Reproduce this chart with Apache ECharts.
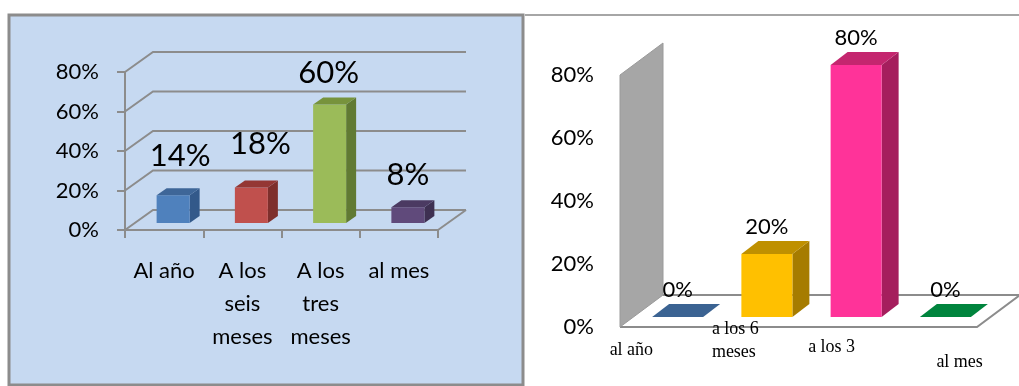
<!DOCTYPE html>
<html>
<head>
<meta charset="utf-8">
<script src="https://cdn.jsdelivr.net/npm/echarts@6/dist/echarts.min.js"></script>
<style>
  html, body { margin: 0; padding: 0; background: #ffffff; }
  #chart { width: 1019px; height: 386px; }
</style>
</head>
<body>
<div id="chart"></div>
<script>
// Data: left panel
const leftCategories = ['Al año', 'A los\nseis\nmeses', 'A los\ntres\nmeses', 'al mes'];
const leftValues = [0.14, 0.18, 0.60, 0.08];
// Data: right panel
const rightCategories = ['al año', 'a los 6\nmeses', 'a los 3', 'al mes'];
const rightValues = [0, 0.20, 0.80, 0];
// Value axis ticks (shared)
const percentTicks = [0, 0.2, 0.4, 0.6, 0.8];

const pct = v => Math.round(v * 100) + '%';

// Box shading per bar: front, top, side
const leftShades = [
  { front: '#4F81BD', top: '#3E6698', side: '#33598A' },
  { front: '#C0504D', top: '#943734', side: '#7E2F2C' },
  { front: '#9BBB59', top: '#77933C', side: '#617A33' },
  { front: '#604A7B', top: '#4B3A62', side: '#3E3052' }
];
const rightShades = [
  { front: '#3B6392', top: '#3B6392', side: '#2E4F75' },
  { front: '#FFC000', top: '#BF9000', side: '#A67C00' },
  { front: '#FF3399', top: '#C4266F', side: '#A51E5D' },
  { front: '#00843D', top: '#00843D', side: '#006A31' }
];

// Per-label placement tweaks for the left value labels [dx, lift]
const leftLabelShift = [[7, 32], [9, 36], [-1, 25], [0, 25]];
// Placement of right category labels relative to category centre [dx, dy]
const rightTickShift = [[-55, 23], [-42, 14], [-35, 20], [4, 35]];

const frameGray = '#8C8C8C';
const labelFont = 'Lato, "Open Sans", sans-serif';

// 3D layout settings
const L = { floor: [28, -20], front: [9, -7], depth: [10, -7], width: 33 };
const R = { floor: [43, -32], front: [13, -10], depth: [17, -13], width: 51 };

function boxShapes(api, cfg, i, v, shade) {
  const base = api.coord([i, 0]);
  const top = api.coord([i, v]);
  const xl = base[0] + cfg.front[0] - cfg.width / 2;
  const xr = xl + cfg.width;
  const yb = base[1] + cfg.front[1];
  const yt = top[1] + cfg.front[1];
  const dx = cfg.depth[0], dy = cfg.depth[1];
  const kids = [];
  if (yb - yt > 0.5) {
    kids.push({ type: 'polygon', shape: { points: [[xr, yt], [xr + dx, yt + dy], [xr + dx, yb + dy], [xr, yb]] }, style: { fill: shade.side } });
    kids.push({ type: 'rect', shape: { x: xl, y: yt, width: cfg.width, height: yb - yt }, style: { fill: shade.front } });
  }
  kids.push({ type: 'polygon', shape: { points: [[xl, yt], [xr, yt], [xr + dx, yt + dy], [xl + dx, yt + dy]] }, style: { fill: shade.top } });
  return { kids, cx: (xl + xr) / 2, backTop: yt + dy };
}

const option = {
  animation: false,
  backgroundColor: '#ffffff',
  graphic: [
    { type: 'rect', z: -10, shape: { x: 9, y: 15, width: 514, height: 370 },
      style: { fill: '#C6D9F1', stroke: frameGray, lineWidth: 3 } },
    { type: 'line', z: -10, shape: { x1: 525, y1: 15, x2: 1019, y2: 15 },
      style: { stroke: '#A6A6A6', lineWidth: 2 } }
  ],
  grid: [
    { left: 125, top: 72, width: 313, height: 158 },
    { left: 620, top: 75, width: 357, height: 252 }
  ],
  xAxis: [
    {
      type: 'category', gridIndex: 0, data: leftCategories, boundaryGap: true,
      axisLine: { show: true, lineStyle: { color: frameGray, width: 2 } },
      axisTick: { show: true, length: 8, lineStyle: { color: frameGray, width: 2 } },
      axisLabel: { interval: 0, fontSize: 22, lineHeight: 33, margin: 24, color: '#000', fontFamily: labelFont }
    },
    {
      type: 'category', gridIndex: 1, data: rightCategories, boundaryGap: true,
      axisLine: { show: false }, axisTick: { show: false }, axisLabel: { show: false }
    }
  ],
  yAxis: [
    {
      type: 'value', gridIndex: 0, min: 0, max: 0.8, interval: 0.2,
      axisLine: { show: true, lineStyle: { color: frameGray, width: 2 } },
      axisTick: { show: true, length: 8, lineStyle: { color: frameGray, width: 2 } },
      splitLine: { show: false },
      axisLabel: { formatter: pct, fontSize: 22, margin: 26, color: '#000', fontFamily: labelFont }
    },
    {
      type: 'value', gridIndex: 1, min: 0, max: 0.8, interval: 0.2,
      axisLine: { show: false }, axisTick: { show: false }, splitLine: { show: false },
      axisLabel: { formatter: pct, fontSize: 22, margin: 26, color: '#000', fontFamily: labelFont }
    }
  ],
  series: [
    // Left panel: receding grid lines and floor edge
    {
      type: 'custom', xAxisIndex: 0, yAxisIndex: 0, z: 1, silent: true,
      data: [[0, 0]],
      renderItem: function (params, api) {
        const cs = params.coordSys;
        const x0 = cs.x, x1 = cs.x + cs.width;
        const [fx, fy] = L.floor;
        const kids = percentTicks.map(function (t) {
          const y = api.coord([0, t])[1];
          return { type: 'polyline', shape: { points: [[x0, y], [x0 + fx, y + fy], [x1 + fx, y + fy]] },
                   style: { stroke: frameGray, lineWidth: 2, fill: null } };
        });
        const yb = api.coord([0, 0])[1];
        kids.push({ type: 'line', shape: { x1: x1, y1: yb, x2: x1 + fx, y2: yb + fy },
                    style: { stroke: frameGray, lineWidth: 2 } });
        return { type: 'group', children: kids };
      }
    },
    // Left panel: boxes and value labels
    {
      type: 'custom', xAxisIndex: 0, yAxisIndex: 0, z: 3,
      data: leftValues.map((v, i) => [i, v]),
      renderItem: function (params, api) {
        const i = api.value(0), v = api.value(1);
        const b = boxShapes(api, L, i, v, leftShades[i]);
        const s = leftLabelShift[i];
        b.kids.push({ type: 'text', style: {
          text: pct(v), x: b.cx + s[0], y: b.backTop - s[1],
          align: 'center', verticalAlign: 'middle',
          fontSize: 31, fontFamily: labelFont, fill: '#000' } });
        return { type: 'group', children: b.kids };
      }
    },
    // Right panel: side wall and floor
    {
      type: 'custom', xAxisIndex: 1, yAxisIndex: 1, z: 1, silent: true,
      data: [[0, 0]],
      renderItem: function (params, api) {
        const cs = params.coordSys;
        const x0 = cs.x, x1 = cs.x + cs.width;
        const [fx, fy] = R.floor;
        const yb = api.coord([0, 0])[1];
        const yt = api.coord([0, 0.8])[1];
        return { type: 'group', children: [
          { type: 'polyline', shape: { points: [[x0, yb], [x1, yb], [x1 + fx, yb + fy], [x0 + fx, yb + fy]] },
            style: { stroke: frameGray, lineWidth: 2, fill: '#ffffff' } },
          { type: 'polygon', shape: { points: [[x0, yb], [x0, yt], [x0 + fx, yt + fy], [x0 + fx, yb + fy]] },
            style: { fill: '#A6A6A6', stroke: '#9A9A9A', lineWidth: 1 } }
        ] };
      }
    },
    // Right panel: boxes and value labels
    {
      type: 'custom', xAxisIndex: 1, yAxisIndex: 1, z: 3,
      data: rightValues.map((v, i) => [i, v]),
      renderItem: function (params, api) {
        const i = api.value(0), v = api.value(1);
        const b = boxShapes(api, R, i, v, rightShades[i]);
        b.kids.push({ type: 'text', style: {
          text: pct(v), x: b.cx, y: b.backTop - 14,
          align: 'center', verticalAlign: 'middle',
          fontSize: 22, fontFamily: labelFont, fill: '#000' } });
        return { type: 'group', children: b.kids };
      }
    },
    // Right panel: category captions
    {
      type: 'custom', xAxisIndex: 1, yAxisIndex: 1, z: 3, silent: true,
      data: rightCategories.map((c, i) => [i, 0]),
      renderItem: function (params, api) {
        const i = api.value(0);
        const p = api.coord([i, 0]);
        const s = rightTickShift[i];
        return { type: 'text', style: {
          text: rightCategories[i], x: p[0] + s[0], y: p[1] + s[1],
          align: 'left', verticalAlign: 'middle', lineHeight: 23,
          fontSize: 18, fontFamily: '"Liberation Serif", "DejaVu Serif", serif', fill: '#000' } };
      }
    }
  ]
};

const chart = echarts.init(document.getElementById('chart'), null, { renderer: 'canvas' });
chart.setOption(option);
</script>
</body>
</html>
